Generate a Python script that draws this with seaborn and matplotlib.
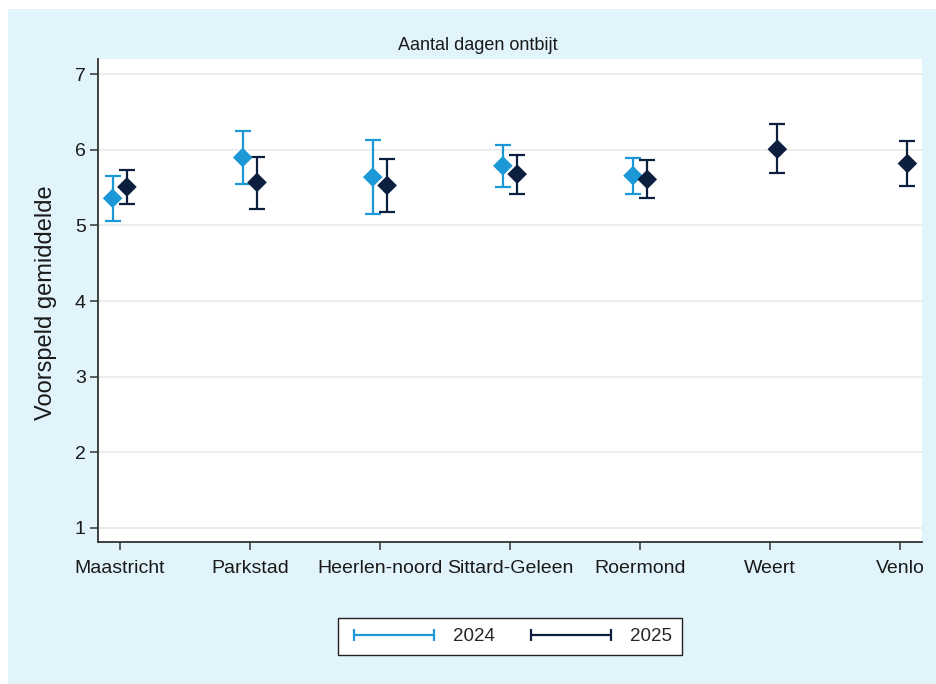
import numpy as np
import pandas as pd
import matplotlib
matplotlib.use("Agg")
import matplotlib.pyplot as plt
import seaborn as sns
from matplotlib.lines import Line2D
from matplotlib.patches import Rectangle

# Regio's en voorspelde gemiddelden (aantal dagen ontbijt) met 95%-BI
regios = ["Maastricht", "Parkstad", "Heerlen-noord", "Sittard-Geleen",
          "Roermond", "Weert", "Venlo"]

gem_2024 = [5.36, 5.90, 5.64, 5.79, 5.66, np.nan, np.nan]
lo_2024 = [5.06, 5.55, 5.15, 5.51, 5.42, np.nan, np.nan]
hi_2024 = [5.65, 6.25, 6.13, 6.06, 5.89, np.nan, np.nan]

gem_2025 = [5.51, 5.57, 5.53, 5.68, 5.61, 6.01, 5.82]
lo_2025 = [5.29, 5.22, 5.18, 5.42, 5.36, 5.69, 5.52]
hi_2025 = [5.73, 5.91, 5.88, 5.93, 5.87, 6.34, 6.12]

jaren = ["2024", "2025"]
kleuren = {"2024": "#1b98d5", "2025": "#0c1f3f"}
dodge = {"2024": -0.055, "2025": 0.055}

rows = []
for jaar, gem, lo, hi in [("2024", gem_2024, lo_2024, hi_2024),
                          ("2025", gem_2025, lo_2025, hi_2025)]:
    for i, r in enumerate(regios):
        rows.append({"regio": r, "jaar": jaar, "pos": i + dodge[jaar],
                     "gem": gem[i], "lo": lo[i], "hi": hi[i]})
df = pd.DataFrame(rows).dropna()

sns.set_style("white")
plt.rcParams["font.family"] = ["Liberation Sans", "DejaVu Sans"]

fig = plt.figure(figsize=(9.37, 6.84), dpi=100)
fig.patch.set_facecolor("white")
# lichtblauwe achtergrond van de grafiek
fig.patches.append(Rectangle((8 / 937, 0), 1, 1 - 9 / 684, transform=fig.transFigure,
                             facecolor="#e1f4fc", edgecolor="none", zorder=-5))

ax = fig.add_axes([0.1049, 0.2076, 0.8788, 0.7057])
ax.set_zorder(1)
ax.set_facecolor("white")

# betrouwbaarheidsintervallen
for jaar in jaren:
    d = df[df["jaar"] == jaar]
    ax.errorbar(d["pos"], d["gem"], yerr=[d["gem"] - d["lo"], d["hi"] - d["gem"]],
                fmt="none", ecolor=kleuren[jaar], elinewidth=1.6, capsize=5.5,
                capthick=1.6, zorder=2)

sns.scatterplot(data=df, x="pos", y="gem", hue="jaar", palette=kleuren,
                marker="D", s=100, linewidth=0, legend=False, ax=ax, zorder=3)

ax.set_xlim(-0.165, 6.165)
ax.set_ylim(0.81, 7.2)
ax.set_xticks(range(len(regios)))
ax.set_xticklabels(regios)
ax.set_yticks(range(1, 8))
ax.yaxis.grid(True, color="#e8e8e8", linewidth=1.1)
ax.set_axisbelow(True)

for s in ["top", "right"]:
    ax.spines[s].set_visible(False)
for s in ["left", "bottom"]:
    ax.spines[s].set_color("#333333")
    ax.spines[s].set_linewidth(1.3)

ax.tick_params(axis="both", which="major", direction="out", length=6, width=1.1,
               color="#333333", labelsize=14, labelcolor="#1a1a1a",
               left=True, bottom=True)
ax.tick_params(axis="y", pad=3)
ax.tick_params(axis="x", pad=7)
ax.set_xlabel("")
ax.set_ylabel("")

fig.text(46 / 937, 1 - 303 / 684, "Voorspeld gemiddelde", rotation=90,
         ha="center", va="center", fontsize=17, color="#1a1a1a")
fig.text(478 / 937, 1 - 46 / 684, "Aantal dagen ontbijt",
         ha="center", va="center", fontsize=13, color="#1a1a1a")

handles = [Line2D([0], [0], color=kleuren[j], linewidth=1.6, marker="|",
                  markersize=9, markeredgewidth=1.6) for j in jaren]
leg = fig.legend(handles, jaren, loc="center", bbox_to_anchor=(510 / 937, 1 - 636.5 / 684),
                 ncol=2, numpoints=2, fontsize=13.5, handlelength=4.9,
                 handletextpad=0.7, columnspacing=1.6, frameon=True,
                 fancybox=False, borderpad=0.55, borderaxespad=0, framealpha=1)
leg.get_frame().set_edgecolor("#222222")
leg.get_frame().set_linewidth(1.0)
leg.get_frame().set_facecolor("white")

fig.savefig("out.png", dpi=100, facecolor=fig.get_facecolor())
